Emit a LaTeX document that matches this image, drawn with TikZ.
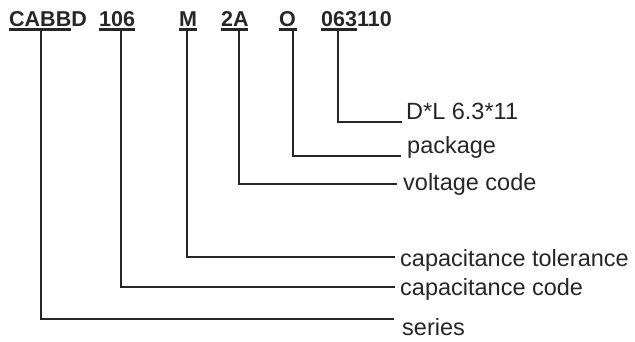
\documentclass[tikz,border=0pt]{standalone}
\usepackage{fontspec}
\setmainfont{Liberation Sans}
\begin{document}
\begin{tikzpicture}[x=1pt,y=-1pt,
  code/.style={inner sep=0pt,anchor=base west,font=\fontsize{21.5}{25}\selectfont\bfseries,text=black!85},
  lbl/.style={inner sep=0pt,anchor=base west,font=\fontsize{23.5}{27}\selectfont,text=black!85},
  ul/.style={line width=2.2pt,draw=black!85},
  conn/.style={line width=1.6pt,draw=black!85}]
\useasboundingbox (0,0) rectangle (635,341);
% top codes
\node[code] (cabbd) at (9,26) {CABBD};
\node[code] (c106) at (99,26) {106};
\node[code] (cm) at (179,26) {M};
\node[code] (c2a) at (221,26) {2A};
\node[code] (co) at (279,26) {O};
\node[code] (c063) at (321,26) {063110};
% underlines
\draw[ul] (9,29.5) -- (71,29.5);
\draw[ul] (99,29.5) -- (135,29.5);
\draw[ul] (179,29.5) -- (197,29.5);
\draw[ul] (221,29.5) -- (248,29.5);
\draw[ul] (279,29.5) -- (297,29.5);
\draw[ul] (321,29.5) -- (357,29.5);
% top anchor coordinates
\coordinate (t1) at (41,30);
\coordinate (t2) at (121,30);
\coordinate (t3) at (187,30);
\coordinate (t4) at (239,30);
\coordinate (t5) at (293,30);
\coordinate (t6) at (338,30);
% labels
\node[lbl] (ldl) at (406,119) {D*L 6.3*11};
\node[lbl] (lpk) at (407,153) {package};
\node[lbl] (lvc) at (403,190) {voltage code};
\node[lbl] (lct) at (400,266) {capacitance tolerance};
\node[lbl] (lcc) at (400,295) {capacitance code};
\node[lbl] (lse) at (402,335) {series};
% line ends
\coordinate (e6) at (402,122);
\coordinate (e5) at (401,156);
\coordinate (e4) at (397,184);
\coordinate (e3) at (395,257);
\coordinate (e2) at (395,287);
\coordinate (e1) at (394,319);
% connectors
\draw[conn] (t6) |- (e6);
\draw[conn] (t5) |- (e5);
\draw[conn] (t4) |- (e4);
\draw[conn] (t3) |- (e3);
\draw[conn] (t2) |- (e2);
\draw[conn] (t1) |- (e1);
\end{tikzpicture}
\end{document}
